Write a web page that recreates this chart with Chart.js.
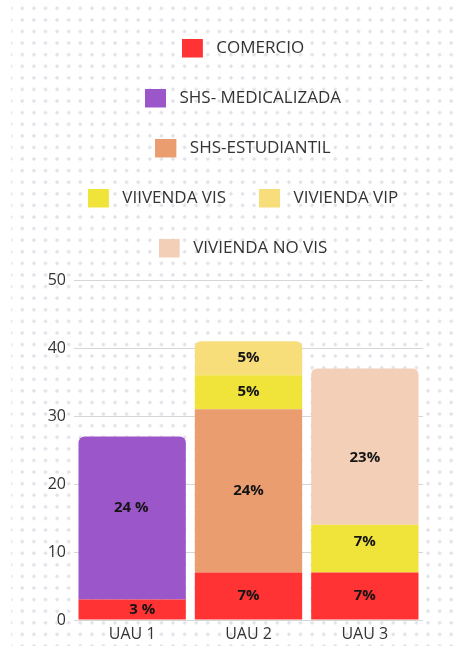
<!DOCTYPE html>
<html>
<head>
<meta charset="utf-8">
<script src="https://cdn.jsdelivr.net/npm/chart.js@4"></script>
<style>
  html, body { margin:0; padding:0; width:454px; height:646px; overflow:hidden; background:#fff; }
  #bg { position:absolute; left:11px; top:0; right:0; bottom:0;
        background-image: radial-gradient(circle at center, rgb(225,226,232) 0, rgb(225,226,232) 1.4px, rgba(255,255,255,0) 1.9px);
        background-size: 11.6px 11.6px; background-position: 5.5px 2.5px; }
  #wrap { position:absolute; left:0; top:0; width:454px; height:646px; }
</style>
</head>
<body>
<div id="bg"></div>
<div id="wrap"><canvas id="c"></canvas></div>
<script>
// ---- data ----
const categories = ['UAU 1', 'UAU 2', 'UAU 3'];
const seriesNames = ['COMERCIO', 'SHS- MEDICALIZADA', 'SHS-ESTUDIANTIL', 'VIIVENDA VIS', 'VIVIENDA VIP', 'VIVIENDA NO VIS'];
const comercio   = [3, 7, 7];
const shsMed     = [24, 0, 0];
const shsEst     = [0, 24, 0];
const vivVis     = [0, 5, 7];
const vivVip     = [0, 5, 0];
const vivNoVis   = [0, 0, 23];
const comercioLabels = ['3 %', '7%', '7%'];
const shsMedLabels   = ['24 %', '', ''];
const shsEstLabels   = ['', '24%', ''];
const vivVisLabels   = ['', '5%', '7%'];
const vivVipLabels   = ['', '5%', ''];
const vivNoVisLabels = ['', '', '23%'];
const yTicks = [0, 10, 20, 30, 40, 50];

// ---- styles ----
const colors = ['#FF3333', '#9B57C9', '#EA9E6F', '#F0E33A', '#F8DD7B', '#F3CFB7'];
const labelShift = { '0:0': [10, 0], '1:0': [-1, -9.8], '5:2': [0, 10.7], '3:2': [0, -7.2] };

const values = [comercio, shsMed, shsEst, vivVis, vivVip, vivNoVis];
const segLabels = [comercioLabels, shsMedLabels, shsEstLabels, vivVisLabels, vivVipLabels, vivNoVisLabels];

function swatch(color) {
  const c = document.createElement('canvas');
  c.width = 26; c.height = 20;
  const g = c.getContext('2d');
  g.fillStyle = color;
  g.fillRect(0, 0, 21, 19);
  return c;
}
const swatches = colors.map(swatch);

const segLabelPlugin = {
  id: 'segLabels',
  afterDatasetsDraw(chart) {
    const ctx = chart.ctx;
    ctx.save();
    ctx.font = 'bold 15px "Open Sans"';
    ctx.fillStyle = '#141414';
    ctx.textAlign = 'center';
    ctx.textBaseline = 'middle';
    chart.data.datasets.forEach((ds, di) => {
      const meta = chart.getDatasetMeta(di);
      meta.data.forEach((bar, i) => {
        const t = segLabels[di][i];
        if (!t) return;
        const sh = labelShift[di + ':' + i] || [0, 0];
        ctx.fillText(t, bar.x + sh[0], (bar.y + bar.base) / 2 + sh[1]);
      });
    });
    ctx.restore();
  }
};

const legendSpace = {
  id: 'legendSpace',
  beforeInit(chart) {
    const lg = chart.legend;
    if (!lg) return;
    const orig = lg.fit;
    lg.fit = function () { orig.call(this); this.height += 13; };
  }
};

function draw() {
  new Chart(document.getElementById('c'), {
    type: 'bar',
    data: {
      labels: categories,
      datasets: seriesNames.map((n, i) => ({
        label: n,
        data: values[i],
        backgroundColor: colors[i],
        borderWidth: 0,
        borderRadius: 6,
        borderSkipped: 'start',
        barPercentage: 0.9226,
        categoryPercentage: 1
      }))
    },
    options: {
      responsive: true,
      maintainAspectRatio: false,
      animation: false,
      layout: { padding: { top: 7, left: 47, right: 15, bottom: -2 } },
      plugins: {
        tooltip: { enabled: false },
        legend: {
          position: 'top',
          align: 'center',
          labels: {
            usePointStyle: true,
            pointStyleWidth: 26,
            padding: 33,
            color: '#333333',
            font: { family: '"Open Sans"', size: 17 },
            generateLabels(chart) {
              const items = Chart.defaults.plugins.legend.labels.generateLabels(chart);
              items.forEach(it => { it.pointStyle = swatches[it.datasetIndex]; });
              return items;
            }
          }
        }
      },
      scales: {
        x: {
          stacked: true,
          grid: { display: false, drawTicks: false },
          border: { display: false },
          ticks: { color: '#333333', font: { family: '"Open Sans"', size: 16, lineHeight: 1 }, padding: 6 }
        },
        y: {
          stacked: true,
          min: 0, max: 50,
          grid: { color: '#d6d6d6', drawTicks: false },
          border: { display: false },
          afterBuildTicks(s) { s.ticks = yTicks.map(v => ({ value: v })); },
          afterFit(s) { s.width = 27; },
          ticks: { color: '#333333', font: { family: '"Open Sans"', size: 16 }, padding: 8 }
        },
        yRight: {
          type: 'linear', axis: 'y', position: 'right', display: true,
          grid: { display: false, drawTicks: false },
          border: { display: false },
          ticks: { display: false },
          afterFit(s) { s.width = 16; }
        }
      }
    },
    plugins: [segLabelPlugin, legendSpace]
  });
}

Promise.all([
  document.fonts.load('16px "Open Sans"'),
  document.fonts.load('17px "Open Sans"'),
  document.fonts.load('bold 15px "Open Sans"')
]).then(draw, draw);
</script>
</body>
</html>
